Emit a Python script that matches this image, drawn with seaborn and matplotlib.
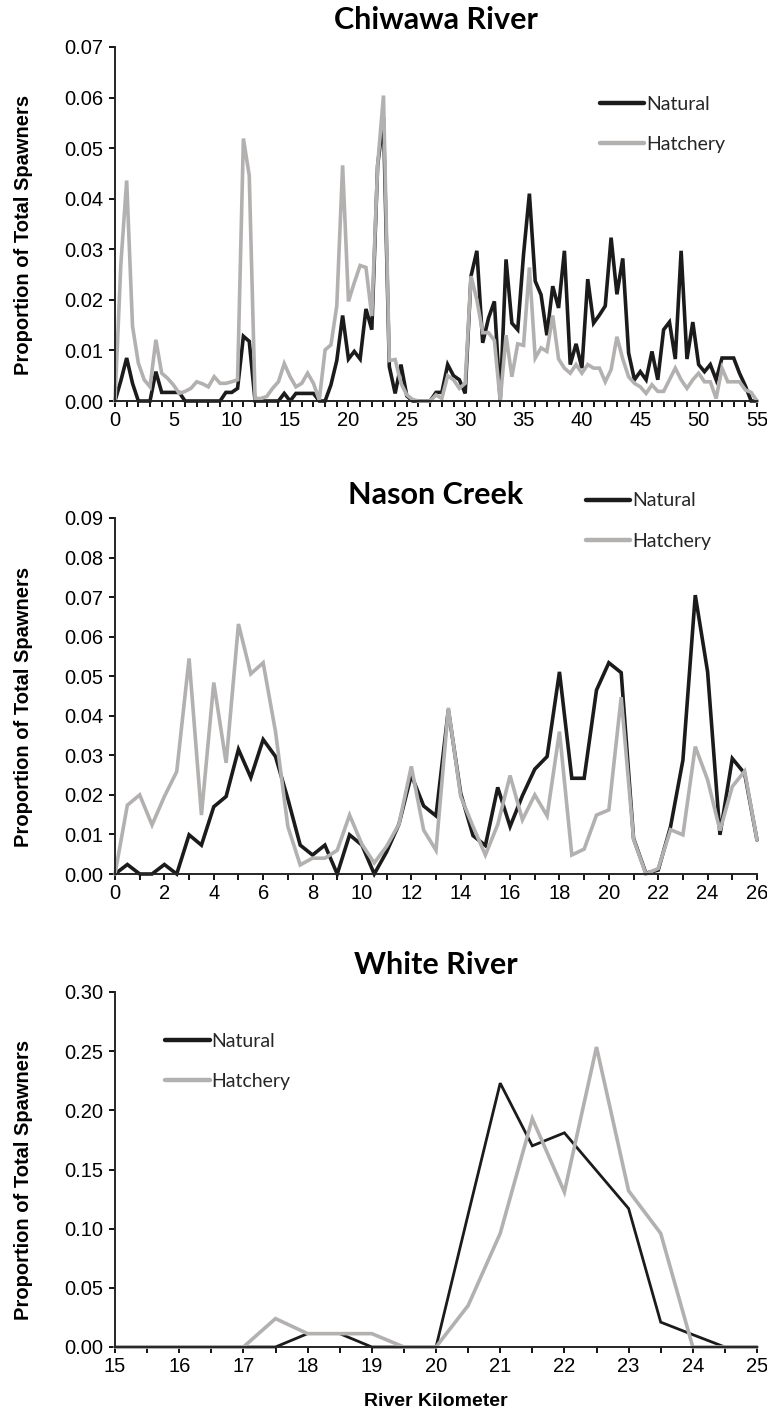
import numpy as np
import pandas as pd
import matplotlib
matplotlib.use("Agg")
import matplotlib.pyplot as plt
from matplotlib.ticker import MultipleLocator, FormatStrFormatter
import seaborn as sns

# ---------------- data ----------------
chiwawa_km = np.arange(0, 55.5, 0.5)
chiwawa_natural = [
    0, .004, .0085, .0035, 0, 0, 0, .0058, .0017, .0017,
    .0017, .0017, 0, 0, 0, 0, 0, 0, 0, .0017,
    .0017, .0025, .0128, .0118, 0, 0, 0, 0, 0, .0015,
    0, .0015, .0015, .0015, .0015, 0, 0, .0032, .008, .0169,
    .0083, .0098, .0083, .0182, .0141, .0466, .056, .0068, .0015, .0072,
    .001, 0, 0, 0, 0, .0017, .0017, .0072, .005, .0042,
    .0015, .0247, .0297, .0115, .0164, .0197, 0, .028, .0154, .0141,
    .029, .041, .0237, .021, .013, .0227, .0184, .0297, .0072, .0113,
    .0065, .0241, .0154, .017, .0188, .0323, .0211, .0282, .0095, .0042,
    .0058, .0042, .0098, .0042, .0141, .0156, .0083, .0297, .0083, .0156,
    .0072, .0058, .0072, .0042, .0085, .0085, .0085, .0055, .003, 0,
    0,
]
chiwawa_hatchery = [
    0, .027, .0436, .0148, .0075, .0042, .0028, .0121, .0055, .0045,
    .0032, .0015, .0019, .0025, .0038, .0034, .0028, .0048, .0035, .0035,
    .0038, .0042, .0519, .0446, .0005, .0005, .0009, .0025, .0038, .0074,
    .0048, .0028, .0035, .0055, .0035, .0002, .0101, .0111, .0188, .0466,
    .0197, .0234, .0268, .0264, .0168, .0466, .0604, .008, .0082, .0035,
    .0012, .0003, 0, 0, 0, .0012, .0005, .005, .0042, .0025,
    .0035, .0247, .02, .0135, .0135, .012, 0, .013, .0048, .0113,
    .011, .0264, .0085, .0105, .0098, .0169, .0083, .0065, .0055, .0072,
    .0055, .0072, .0065, .0065, .0038, .0062, .0127, .0083, .0048, .0035,
    .0028, .0015, .0032, .0019, .0019, .0042, .0065, .0042, .0025, .0042,
    .0055, .0038, .0038, .0005, .0065, .0038, .0038, .0038, .0022, .0017,
    0,
]

nason_km = np.arange(0, 26.5, 0.5)
nason_natural = [
    0, .0024, 0, 0, .0024, 0, .0099, .0073, .017, .0196,
    .0315, .0244, .034, .0297, .019, .0073, .0048, .0073, 0, .0099,
    .0073, 0, .0056, .0126, .025, .0172, .0147, .0415, .0204, .0097,
    .0072, .0219, .012, .0198, .0265, .0297, .0511, .0242, .0242, .0465,
    .0534, .0509, .009, .0002, .001, .012, .0288, .0705, .0511, .0099,
    .0292, .0254, .0086,
]
nason_hatchery = [
    0, .0174, .020, .0124, .0196, .0259, .0545, .0149, .0484, .0281,
    .0632, .0506, .0534, .036, .012, .0023, .004, .004, .006, .0149,
    .0075, .0028, .007, .0126, .0272, .0111, .006, .042, .0196, .012,
    .0048, .0125, .0249, .0137, .02, .0147, .036, .0048, .0063, .0149,
    .0162, .0447, .0088, 0, .0014, .0112, .0099, .0322, .0238, .011,
    .0221, .026, .0086,
]

white_km = np.arange(15, 25.5, 0.5)
white_natural = [0, 0, 0, 0, 0, 0, .0113, .0113, 0, 0,
                 0, .112, .223, .170, .181, .149, .117, .021, .0104, 0, 0]
white_hatchery = [0, 0, 0, 0, 0, .024, .0113, .0113, .0113, 0,
                  0, .035, .096, .193, .131, .2535, .132, .096, 0, 0, 0]

titles = ["Chiwawa River", "Nason Creek", "White River"]
series_names = ["Natural", "Hatchery"]
ylabel_text = "Proportion of Total Spawners"
xlabel_text = "River Kilometer"

BLACK = "#1b1b1b"
GRAY = "#b3b0b0"

# ---------------- style ----------------
sns.set_style("ticks")
plt.rcParams["font.family"] = ["Liberation Sans", "DejaVu Sans"]
plt.rcParams["axes.linewidth"] = 1.4

W, H = 767, 1422
fig = plt.figure(figsize=(W / 100, H / 100), dpi=100)


def rect(top, bottom, left=115, right=757):
    return [left / W, 1 - bottom / H, (right - left) / W, (bottom - top) / H]


def panel(r, km, nat, hat, xlim, ylim, ymaj, xmaj, xmin, title, title_y,
          leg_anchor, lw_nat, lw_hat, xlabel=False):
    ax = fig.add_axes(r)
    df = pd.DataFrame({
        "km": np.concatenate([km, km]),
        "prop": list(nat) + list(hat),
        "origin": [series_names[0]] * len(km) + [series_names[1]] * len(km),
    })
    sns.lineplot(data=df, x="km", y="prop", hue="origin",
                 hue_order=series_names,
                 palette={series_names[0]: BLACK, series_names[1]: GRAY},
                 ax=ax, linewidth=2.2, estimator=None, sort=False)
    lines = ax.get_lines()
    lines[0].set_linewidth(lw_nat)
    lines[1].set_linewidth(lw_hat)
    for ln in lines[:2]:
        ln.set_solid_joinstyle("miter")
        ln.set_clip_on(False)
    ax.set_xlim(*xlim)
    ax.set_ylim(*ylim)
    ax.yaxis.set_major_locator(MultipleLocator(ymaj))
    ax.yaxis.set_major_formatter(FormatStrFormatter("%.2f"))
    ax.xaxis.set_major_locator(MultipleLocator(xmaj))
    ax.xaxis.set_minor_locator(MultipleLocator(xmin))
    ax.xaxis.set_major_formatter(FormatStrFormatter("%g"))
    ax.tick_params(axis="both", which="both", direction="out", length=4.5,
                   width=1.3, color="black", labelsize=14.5, labelcolor="black")
    ax.tick_params(axis="y", pad=4)
    ax.tick_params(axis="x", pad=3)
    sns.despine(ax=ax)
    ax.set_xlabel("")
    ax.set_ylabel(ylabel_text, fontsize=14.5, fontweight="bold", color="black")
    ax.yaxis.set_label_coords((33 - 115) / 642, 0.47)
    fig.text((115 + 757) / 2 / W, 1 - title_y / H, title, ha="center",
             va="center", fontsize=22, fontweight="bold", family="Lato",
             color="black")
    handles, labels = ax.get_legend_handles_labels()
    for hd in handles:
        hd.set_linewidth(3.2)
    ax.legend(handles, labels, loc="upper left", bbox_to_anchor=leg_anchor,
              frameon=False, handlelength=2.3, handletextpad=0.1,
              labelspacing=1.2, borderpad=0, borderaxespad=0,
              prop={"family": "Lato", "size": 14})
    if xlabel:
        ax.set_xlabel(xlabel_text, fontsize=14, fontweight="bold",
                      color="black", labelpad=12)
    return ax


panel(rect(47, 401), chiwawa_km, chiwawa_natural, chiwawa_hatchery,
      (0, 55), (0, 0.07), 0.01, 5, 1, titles[0], 20,
      (0.755, 0.862), 2.6, 2.6)
panel(rect(518, 874), nason_km, nason_natural, nason_hatchery,
      (0, 26), (0, 0.09), 0.01, 2, 1, titles[1], 495,
      (0.733, 1.072), 2.6, 2.6)
panel(rect(992, 1347), white_km, white_natural, white_hatchery,
      (15, 25), (0, 0.30), 0.05, 1, 0.5, titles[2], 965,
      (0.078, 0.885), 2.0, 2.6, xlabel=True)

fig.savefig("out.png", dpi=100)
